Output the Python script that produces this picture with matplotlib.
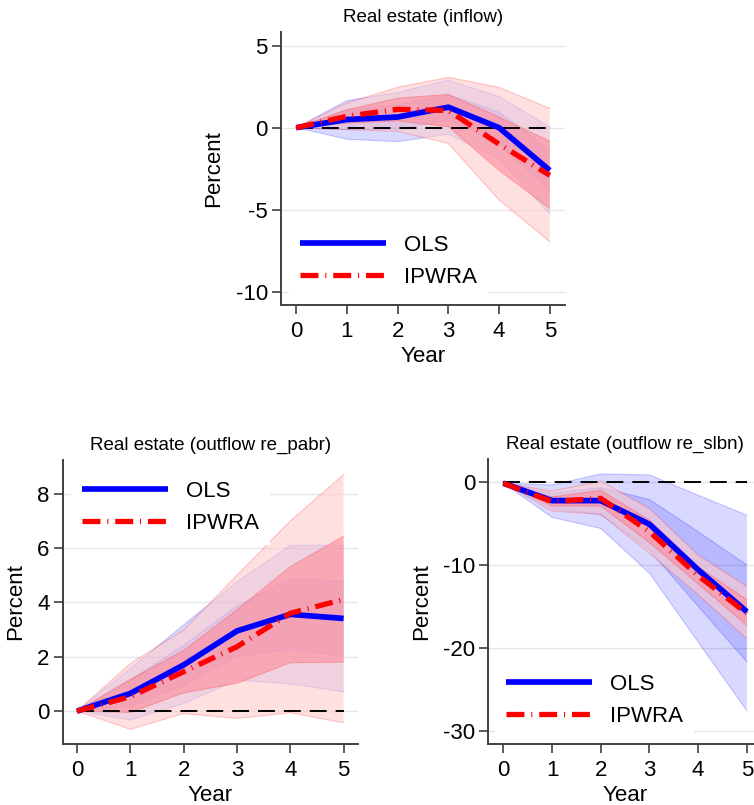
import numpy as np
import matplotlib.pyplot as plt
from matplotlib.lines import Line2D

plt.rcParams['font.family'] = ['Liberation Sans', 'DejaVu Sans']

years = [0, 1, 2, 3, 4, 5]

# Real estate (inflow)
in_ols = [0, 0.5, 0.65, 1.25, 0.0, -2.6]
in_ols_lo68 = [0, -0.1, -0.1, 0.45, -0.95, -3.85]
in_ols_hi68 = [0, 1.1, 1.4, 2.0, 0.95, -1.35]
in_ols_lo95 = [0, -0.7, -0.85, -0.4, -1.9, -5.25]
in_ols_hi95 = [0, 1.65, 2.15, 2.9, 1.9, 0.05]
in_ipw = [0, 0.7, 1.12, 1.05, -1.0, -2.9]
in_ipw_lo68 = [0, 0.28, 0.42, 0.06, -2.6, -4.92]
in_ipw_hi68 = [0, 1.1, 1.8, 2.03, 0.65, -0.82]
in_ipw_lo95 = [0, -0.12, -0.22, -0.96, -4.4, -6.95]
in_ipw_hi95 = [0, 1.5, 2.46, 3.07, 2.46, 1.18]

# Real estate (outflow re_pabr)
pa_ols = [0, 0.65, 1.7, 2.95, 3.56, 3.41]
pa_ols_lo68 = [0, 0.16, 0.96, 2.03, 2.26, 2.03]
pa_ols_hi68 = [0, 1.14, 2.42, 3.87, 4.86, 4.79]
pa_ols_lo95 = [0, -0.33, 0.28, 1.14, 1.0, 0.71]
pa_ols_hi95 = [0, 1.57, 3.17, 4.76, 6.1, 6.1]
pa_ipw = [0, 0.53, 1.45, 2.37, 3.6, 4.11]
pa_ipw_lo68 = [0, -0.05, 0.67, 1.02, 1.78, 1.8]
pa_ipw_hi68 = [0, 1.17, 2.23, 3.72, 5.32, 6.44]
pa_ipw_lo95 = [0, -0.67, -0.09, -0.27, -0.06, -0.43]
pa_ipw_hi95 = [0, 1.75, 2.98, 5.0, 7.0, 8.71]

# Real estate (outflow re_slbn)
sl_ols = [-0.15, -2.25, -2.25, -5.1, -10.6, -15.65]
sl_ols_lo68 = [-0.15, -3.25, -3.9, -8.2, -15.0, -21.7]
sl_ols_hi68 = [-0.15, -1.35, -0.7, -2.1, -6.0, -10.0]
sl_ols_lo95 = [-0.15, -4.27, -5.6, -11.0, -19.3, -27.6]
sl_ols_hi95 = [-0.15, -0.36, 0.97, 0.85, -1.6, -4.0]
sl_ipw = [-0.15, -2.37, -1.97, -6.0, -11.3, -15.85]
sl_ipw_lo68 = [-0.15, -2.9, -2.9, -7.3, -12.3, -17.3]
sl_ipw_hi68 = [-0.15, -1.8, -1.0, -4.6, -10.2, -14.2]
sl_ipw_lo95 = [-0.15, -3.5, -3.9, -8.6, -13.6, -18.9]
sl_ipw_hi95 = [-0.15, -1.1, 0.1, -3.2, -8.8, -12.6]

W, H = 754, 805
fig = plt.figure(figsize=(W / 100, H / 100), dpi=100)

BLUE = '#0000ff'
RED = '#ff0000'
ipw_dash = (0, (3.4, 1.3, 0.2, 1.3))


def add_ax(left, top, right, bottom):
    # box in pixel coordinates from the top-left corner
    return fig.add_axes([left / W, 1 - bottom / H, (right - left) / W, (bottom - top) / H])


def band(ax, lo, hi, face, alpha, edge):
    ax.fill_between(years, lo, hi, facecolor=face, alpha=alpha, lw=0, zorder=2)
    ax.plot(years, lo, color=edge, alpha=0.2, lw=0.8, zorder=2)
    ax.plot(years, hi, color=edge, alpha=0.2, lw=0.8, zorder=2)


def panel(ax, title, ols, ols68, ols95, ipw, ipw68, ipw95, xlim, ylim, yticks, leg_xy):
    # OLS bands translucent blue, IPWRA bands pinker and more opaque on top
    band(ax, ols95[0], ols95[1], BLUE, 0.15, BLUE)
    band(ax, ols68[0], ols68[1], BLUE, 0.15, BLUE)
    band(ax, ipw95[0], ipw95[1], '#ffcccc', 0.6, RED)
    band(ax, ipw68[0], ipw68[1], '#ff8c99', 0.6, RED)
    ax.plot([years[0], years[-1]], [0, 0], color='black', lw=1.4,
            dashes=(8.7, 4.6), zorder=3)
    ax.plot(years, ols, color=BLUE, lw=4.1, solid_capstyle='butt', zorder=4)
    ax.plot(years, ipw, color=RED, lw=3.8, linestyle=ipw_dash,
            dash_capstyle='butt', zorder=5)

    ax.set_xlim(xlim)
    ax.set_ylim(ylim)
    ax.set_xticks(years)
    ax.set_yticks(yticks)
    ax.set_yticklabels([str(t) for t in yticks])
    ax.grid(axis='y', color='#e6e6e6', lw=1.0)
    ax.set_axisbelow(True)
    for s in ['top', 'right']:
        ax.spines[s].set_visible(False)
    for s in ['left', 'bottom']:
        ax.spines[s].set_color('#404040')
        ax.spines[s].set_linewidth(1.4)
    ax.tick_params(axis='both', labelsize=16, colors='#404040', labelcolor='black',
                   length=6.5, width=1.2)
    ax.tick_params(axis='x', pad=5)
    ax.tick_params(axis='y', pad=3)
    ax.set_title(title, fontsize=13.5, pad=7)
    ax.set_xlabel('Year', fontsize=16, labelpad=3)
    ax.set_ylabel('Percent', fontsize=16, labelpad=8)

    handles = [Line2D([], [], color=BLUE, lw=4.1, solid_capstyle='butt'),
               Line2D([], [], color=RED, lw=3.8, linestyle=ipw_dash, dash_capstyle='butt')]
    leg = ax.legend(handles, ['OLS', 'IPWRA'], loc='lower left',
                    bbox_to_anchor=(leg_xy[0] / W, 1 - leg_xy[1] / H),
                    bbox_transform=fig.transFigure, borderaxespad=0,
                    fontsize=16, frameon=True, fancybox=False, framealpha=1,
                    facecolor='white', edgecolor='none', handlelength=3.86,
                    handletextpad=0.83, labelspacing=0.5, borderpad=0.5)
    leg.set_zorder(10)


ax1 = add_ax(281, 32, 565, 305)
panel(ax1, 'Real estate (inflow)', in_ols, (in_ols_lo68, in_ols_hi68),
      (in_ols_lo95, in_ols_hi95), in_ipw, (in_ipw_lo68, in_ipw_hi68),
      (in_ipw_lo95, in_ipw_hi95), (-0.3, 5.3), (-10.8, 5.83), [-10, -5, 0, 5],
      (289, 299))

ax2 = add_ax(62.6, 460, 358, 744)
panel(ax2, 'Real estate (outflow re_pabr)', pa_ols, (pa_ols_lo68, pa_ols_hi68),
      (pa_ols_lo95, pa_ols_hi95), pa_ipw, (pa_ipw_lo68, pa_ipw_hi68),
      (pa_ipw_lo95, pa_ipw_hi95), (-0.27, 5.27), (-1.21, 9.24), [0, 2, 4, 6, 8],
      (71, 545))

ax3 = add_ax(488.2, 459, 761, 744)
panel(ax3, 'Real estate (outflow re_slbn)', sl_ols, (sl_ols_lo68, sl_ols_hi68),
      (sl_ols_lo95, sl_ols_hi95), sl_ipw, (sl_ipw_lo68, sl_ipw_hi68),
      (sl_ipw_lo95, sl_ipw_hi95), (-0.31, 5.29), (-31.6, 2.77), [-30, -20, -10, 0],
      (495, 738))

fig.savefig('out.png', dpi=100, facecolor='white')
